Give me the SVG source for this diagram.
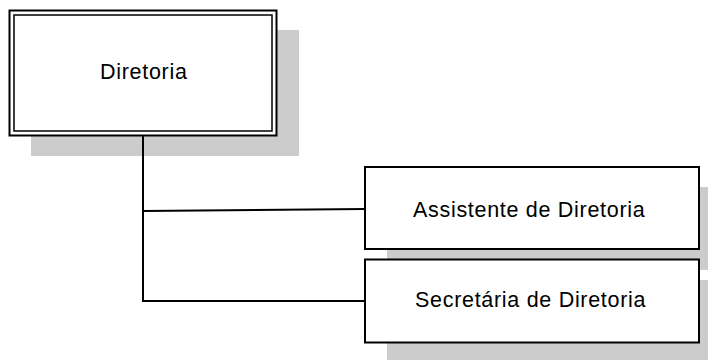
<svg xmlns="http://www.w3.org/2000/svg" width="708" height="360" viewBox="0 0 708 360">
<style>
.shadow{fill:#cccccc;stroke:none}
.box{fill:#ffffff;stroke:#000000;stroke-width:2}
.thin{fill:none;stroke:#000000;stroke-width:1.5}
.lbl{font-family:"Liberation Sans",Arial,sans-serif;font-size:21.5px;fill:#000000;letter-spacing:0.7px}
.conn{fill:none;stroke:#000000;stroke-width:2}
</style>
<rect width="708" height="360" fill="#ffffff"/>
<g id="diretoria">
<rect class="shadow" x="31" y="30" width="268" height="126"/>
<rect class="box" x="9.5" y="10.5" width="267" height="125"/>
<rect class="thin" x="14" y="15" width="258" height="116"/>
<text class="lbl" x="100" y="79">Diretoria</text>
</g>
<g id="assistente">
<rect class="shadow" x="387" y="187" width="330" height="83"/>
<rect class="box" x="365" y="167" width="334" height="82"/>
<text class="lbl" x="413" y="216.5">Assistente de Diretoria</text>
</g>
<g id="secretaria">
<rect class="shadow" x="387" y="280" width="330" height="90"/>
<rect class="box" x="365" y="259.5" width="334" height="83"/>
<text class="lbl" x="415" y="306.5">Secretária de Diretoria</text>
</g>
<g id="connectors">
<path class="conn" d="M143 135.5 V301 H365"/>
<path class="conn" d="M143 211 L365 209"/>
</g>
</svg>
